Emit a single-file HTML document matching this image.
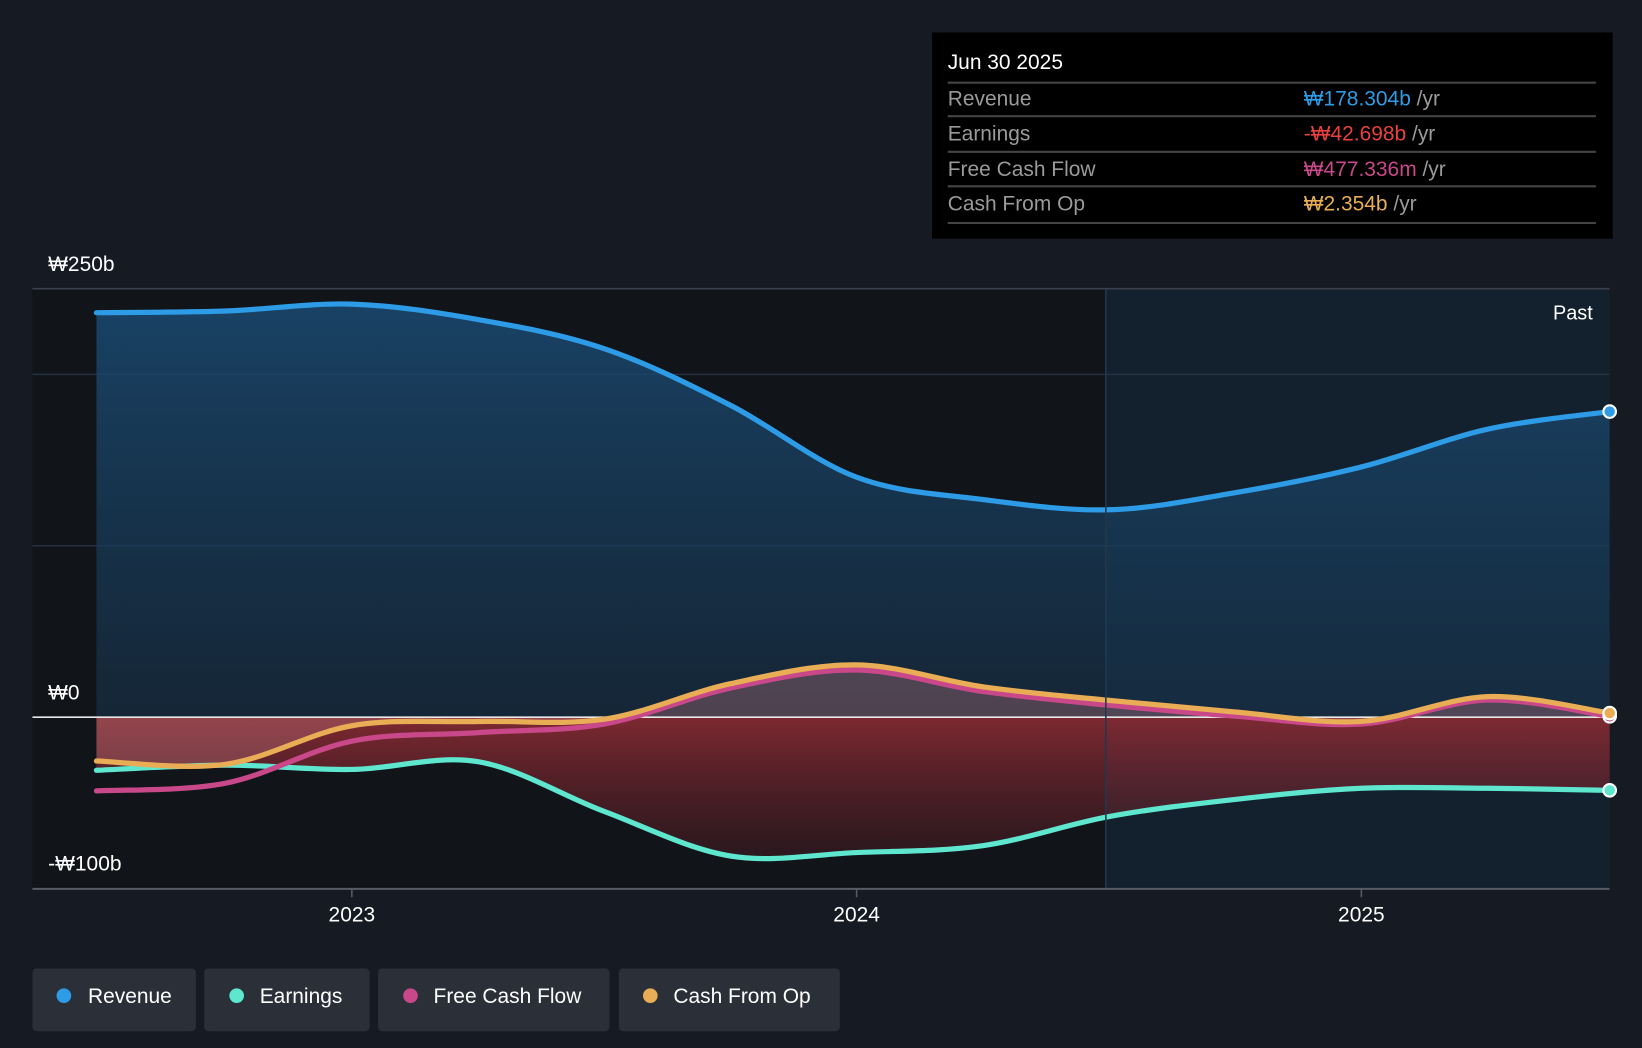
<!DOCTYPE html>
<html><head><meta charset="utf-8"><style>
html,body{margin:0;padding:0;background:#151a23;}
svg{display:block;font-family:"Liberation Sans",sans-serif;}
</style></head><body>
<svg width="1642" height="1048" viewBox="0 0 1568 1001" preserveAspectRatio="none">
<defs>
<linearGradient id="revg" x1="0" y1="0" x2="0" y2="1"><stop offset="0" stop-color="#1a4a72" stop-opacity="0.85"/><stop offset="1" stop-color="#17324a" stop-opacity="0.6"/></linearGradient>
<linearGradient id="earng" x1="0" y1="0" x2="0" y2="1"><stop offset="0" stop-color="#8a2b33" stop-opacity="0.9"/><stop offset="1" stop-color="#5a1f28" stop-opacity="0.35"/></linearGradient>
</defs>
<rect x="0" y="0" width="1568" height="1001" fill="#151a23"/>
<rect x="31" y="276" width="1025" height="573" fill="#111419"/>
<rect x="1056" y="276" width="481" height="573" fill="#13202d"/>
<g id="grid"></g>
<g id="areas"></g>
<g id="lines"></g>
<g id="axes"></g>
<text x="1521" y="305" fill="#fff" font-size="19" text-anchor="end">Past</text>
<g>
<rect x="890" y="31" width="650" height="197" fill="#000"/>
<text x="905" y="66" fill="#fff" font-size="20">Jun 30 2025</text>
<g stroke="#444" stroke-width="2">
<line x1="905" y1="79" x2="1524" y2="79"/><line x1="905" y1="111" x2="1524" y2="111"/><line x1="905" y1="145" x2="1524" y2="145"/><line x1="905" y1="178" x2="1524" y2="178"/><line x1="905" y1="213" x2="1524" y2="213"/></g>
<g font-size="20" fill="#9a9a9a">
<text x="905" y="101">Revenue</text><text x="905" y="134">Earnings</text><text x="905" y="168">Free Cash Flow</text><text x="905" y="201">Cash From Op</text></g>
<g font-size="20">
<text x="1245" y="101"><tspan fill="#2d9be6">₩178.304b</tspan><tspan fill="#9a9a9a"> /yr</tspan></text>
<text x="1245" y="134"><tspan fill="#e8403f">-₩42.698b</tspan><tspan fill="#9a9a9a"> /yr</tspan></text>
<text x="1245" y="168"><tspan fill="#c9488a">₩477.336m</tspan><tspan fill="#9a9a9a"> /yr</tspan></text>
<text x="1245" y="201"><tspan fill="#e8ad55">₩2.354b</tspan><tspan fill="#9a9a9a"> /yr</tspan></text>
</g></g>
<g font-size="20" fill="#fff">
<g><rect x="31" y="925" width="156" height="60" rx="4" fill="#2a2f38"/><circle cx="61" cy="951" r="7" fill="#2d9be6"/><text x="84" y="958" fill="#fff">Revenue</text></g>
<g><rect x="195" y="925" width="158" height="60" rx="4" fill="#2a2f38"/><circle cx="226" cy="951" r="7" fill="#5ee6cf"/><text x="248" y="958" fill="#fff">Earnings</text></g>
<g><rect x="361" y="925" width="221" height="60" rx="4" fill="#2a2f38"/><circle cx="392" cy="951" r="7" fill="#c9488a"/><text x="414" y="958" fill="#fff">Free Cash Flow</text></g>
<g><rect x="591" y="925" width="211" height="60" rx="4" fill="#2a2f38"/><circle cx="621" cy="951" r="7" fill="#e8ad55"/><text x="643" y="958" fill="#fff">Cash From Op</text></g>
</g>
</svg>
<script>
const dates=[2022.494,2022.75,2023,2023.25,2023.5,2023.75,2024,2024.25,2024.5,2024.75,2025,2025.25,2025.492];
const revenue=[236,237,241,232,215,182,140,127,121,131,146,168,178.3];
const earnings=[-31,-28,-30.5,-26,-55,-81,-79,-75,-58,-48,-41.5,-41.5,-42.7];
const fcf=[-43,-38.5,-14,-9,-4,17,27.5,15,7,0.6,-4,10,0.5];
const cfo=[-25.6,-27.5,-5,-2.5,-1.2,19.5,30.5,17.7,9.8,3,-2.5,12,2.4];
const yTicks=[250,0,-100];
const yTickLabels=["₩250b","₩0","-₩100b"];
const gridVals=[250,200,100];
const xTicks=[2023,2024,2025];
const NS="http://www.w3.org/2000/svg";
const X=v=>336+(v-2023)*482;
const Y=v=>685-v*1.637;
function mk(tag,attrs,parent){const e=document.createElementNS(NS,tag);for(const k in attrs)e.setAttribute(k,attrs[k]);document.getElementById(parent).appendChild(e);return e;}
function pathD(vals){const p=vals.map((v,i)=>[X(dates[i]),Y(v)]);let d="M"+p[0][0]+","+p[0][1];
for(let i=0;i<p.length-1;i++){const p0=p[i-1]||p[i],p1=p[i],p2=p[i+1],p3=p[i+2]||p2;
const c1x=p1[0]+(p2[0]-p0[0])/6,c1y=p1[1]+(p2[1]-p0[1])/6,c2x=p2[0]-(p3[0]-p1[0])/6,c2y=p2[1]-(p3[1]-p1[1])/6;
d+=" C"+c1x+","+c1y+" "+c2x+","+c2y+" "+p2[0]+","+p2[1];}return d;}
const x0=X(dates[0]),x1=X(dates[dates.length-1]),z=Y(0);
gridVals.forEach(v=>{const l=mk('line',{x1:31,x2:1537,y1:Y(v),y2:Y(v),stroke:v==250?'#3a414c':'#263140','stroke-width':1.5},'grid');});
function area(vals,fill,name){const a=mk('path',{d:pathD(vals)+" L"+x1+","+z+" L"+x0+","+z+" Z",fill:fill},'areas');}
area(revenue,'url(#revg)','revenue-area');
area(earnings,'url(#earng)','earnings-area');
area(cfo,'rgba(190,120,130,0.35)','cfo-area');
const zl=mk('line',{x1:31,x2:1537,y1:z,y2:z,stroke:'#e8e8e8','stroke-width':1.5},'lines');
[[earnings,'#5ee6cf','earnings-line'],[fcf,'#c9488a','fcf-line'],[cfo,'#e8ad55','cfo-line'],[revenue,'#2d9be6','revenue-line']].forEach(([vals,c,n])=>{
const l=mk('path',{d:pathD(vals),fill:'none',stroke:c,'stroke-width':5,'stroke-linecap':'round'},'lines');
const d=mk('circle',{cx:x1,cy:Y(vals[vals.length-1]),r:6,fill:c,stroke:'#fff','stroke-width':2},'lines');});
const dv=mk('line',{x1:1056,x2:1056,y1:276,y2:849,stroke:'#22384d','stroke-width':1.5},'axes');
const ax=mk('line',{x1:31,x2:1537,y1:849,y2:849,stroke:'#555c66','stroke-width':2},'axes');
yTicks.forEach((v,i)=>{const t=mk('text',{x:46,y:Y(v)-(v==-100?-148+165:17),fill:'#fff','font-size':20},'axes');t.textContent=yTickLabels[i];});
xTicks.forEach(v=>{const tk=mk('line',{x1:X(v),x2:X(v),y1:849,y2:857,stroke:'#555c66','stroke-width':1.5},'axes');
const t=mk('text',{x:X(v),y:880,fill:'#fff','font-size':20,'text-anchor':'middle'},'axes');t.textContent=String(v);});
</script>
</body></html>
